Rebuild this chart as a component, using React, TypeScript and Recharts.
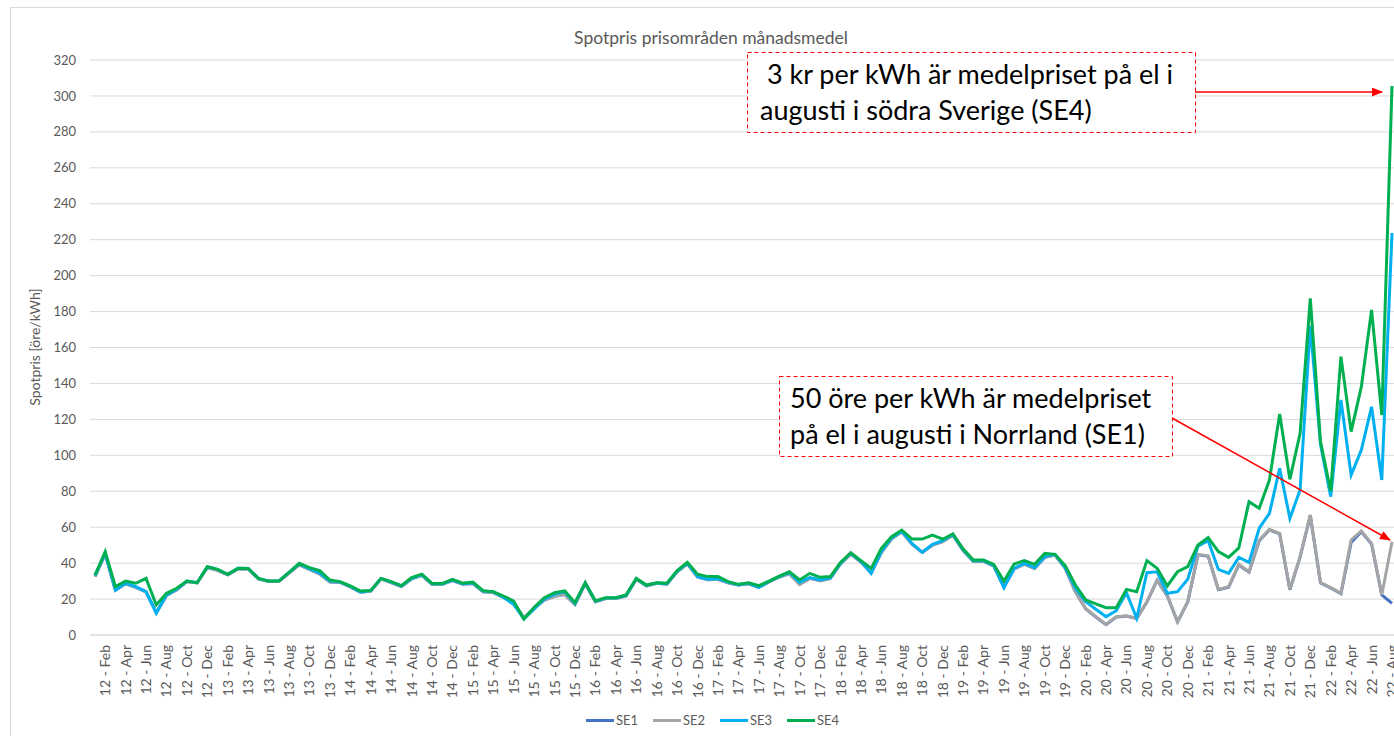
import React from 'react';
import { LineChart, Line, XAxis, YAxis, CartesianGrid, Legend } from 'recharts';

const yearLabels = ['12', '13', '14', '15', '16', '17', '18', '19', '20', '21', '22'];
const monthNames = ['Jan', 'Feb', 'Mar', 'Apr', 'May', 'Jun', 'Jul', 'Aug', 'Sep', 'Oct', 'Nov', 'Dec'];
const tickMonths = ['Feb', 'Apr', 'Jun', 'Aug', 'Oct', 'Dec'];
const yTicks = [0, 20, 40, 60, 80, 100, 120, 140, 160, 180, 200, 220, 240, 260, 280, 300, 320];

const categories: string[] = yearLabels
  .flatMap((y) => monthNames.map((m) => `${y} - ${m}`))
  .slice(0, 128);

const se1 = [
  32.5, 45, 25, 28.5, 26.5, 24, 12.5, 22, 25.2, 29.8, 29, 37.5,
  36, 33.5, 36.8, 36.8, 31.2, 29.8, 29.8, 34.5, 39, 36.5, 34, 29.5,
  29.3, 26.8, 23.8, 24.5, 31.2, 29.2, 27, 31.2, 33.2, 28.3, 28.2, 30.3,
  28.3, 28.6, 24, 23.6, 21, 17.5, 9.5, 14.8, 19.5, 21.5, 22.5, 17,
  28.5, 18.5, 20.3, 20.3, 21.8, 31, 27.4, 28.8, 28.3, 35.2, 39.6, 32.3,
  30.8, 31, 29, 27.8, 28.5, 26.5, 29.5, 32.3, 34, 28.2, 31.5, 30.2,
  31.5, 39.6, 45, 40.6, 34.5, 46, 53.5, 57.5, 50.5, 46, 50, 52,
  55.5, 47, 41, 41, 38.5, 27, 36.8, 39.5, 37, 43.2, 44.5, 37.2,
  24, 14.6, 10, 5.8, 10, 10.5, 9.2, 18.3, 30.4, 21.8, 7.3, 18.4,
  44.6, 43.8, 25.2, 26.6, 39, 35, 52.5, 58.5, 56.3, 25.2, 43.3, 66.5,
  28.9, 26.2, 23, 51.5, 57.5, 50.6, 22.3, 17.6,
];

const se2 = [
  32.5, 45, 25, 28.5, 26.5, 24, 12.5, 22, 25.2, 29.8, 29, 37.5,
  36, 33.5, 36.8, 36.8, 31.2, 29.8, 29.8, 34.5, 39, 36.5, 34, 29.5,
  29.3, 26.8, 23.8, 24.5, 31.2, 29.2, 27, 31.2, 33.2, 28.3, 28.2, 30.3,
  28.3, 28.6, 24, 23.6, 21, 17.5, 9.5, 14.8, 19.5, 21.5, 22.5, 17,
  28.5, 18.5, 20.3, 20.3, 21.8, 31, 27.4, 28.8, 28.3, 35.2, 39.6, 32.3,
  30.8, 31, 29, 27.8, 28.5, 26.5, 29.5, 32.3, 34, 28.2, 31.5, 30.2,
  31.5, 39.6, 45, 40.6, 34.5, 46, 53.5, 57.5, 50.5, 46, 50, 52,
  55.5, 47, 41, 41, 38.5, 27, 36.8, 39.5, 37, 43.2, 44.5, 37.2,
  24.1, 14.8, 10.2, 5.9, 10.2, 10.6, 9.3, 18.5, 30.6, 22, 7.4, 18.6,
  44.9, 44.1, 25.4, 26.9, 39.3, 35.2, 52.9, 58.8, 56.6, 25.4, 43.6, 66.8,
  29.1, 26.4, 23.2, 52.9, 57.9, 51, 22.3, 51.9,
];

const se3 = [
  33, 45.5, 25, 28.8, 26.9, 24.1, 12.1, 22.3, 25.5, 30, 29.1, 38,
  36.5, 33.8, 37.1, 37, 31.5, 30, 30, 34.9, 39.5, 37, 34.5, 30,
  29.5, 27, 24, 24.7, 31.5, 29.5, 27.3, 31.5, 33.5, 28.5, 28.4, 30.5,
  28.6, 29, 24.5, 24, 21, 17, 8.9, 14.5, 20, 22.8, 24, 17.5,
  29, 18.8, 20.6, 20.6, 22, 31.3, 27.6, 29, 28.6, 35.5, 40, 32.5,
  31, 31.3, 29.3, 28, 28.8, 26.5, 29.8, 32.5, 34.8, 29.3, 32, 30.6,
  31.8, 40, 45.5, 41, 34.3, 46.4, 54, 57.8, 51, 46, 50.5, 52.5,
  56, 47.5, 41.3, 41.3, 38.8, 26.3, 37.1, 39.9, 37.5, 43.6, 44.9, 37.5,
  26, 18.6, 14.3, 10.2, 13.5, 23.5, 9.3, 34.7, 35.2, 23.2, 24.1, 31,
  49.5, 52.5, 36.5, 34.3, 43.2, 40.4, 59.4, 67.7, 92.8, 64.9, 80.7, 172,
  106, 77, 130.8, 89, 103, 127, 86.3, 223.7,
];

const se4 = [
  33.4, 46.4, 26.9, 30, 28.8, 31.5, 16.7, 23.2, 26, 30, 29.1, 38,
  36.5, 33.8, 37.1, 37, 31.5, 30, 30, 34.9, 39.9, 37.5, 35.8, 30.6,
  29.7, 27.3, 24.5, 24.7, 31.5, 29.7, 27.5, 31.9, 33.9, 28.8, 28.6, 31,
  28.8, 29.5, 24.7, 24.1, 21.7, 18.9, 8.9, 15.4, 20.8, 23.6, 24.5, 18,
  29.1, 18.9, 20.8, 20.8, 22.3, 31.5, 27.8, 29.1, 28.8, 35.8, 40.4, 33.8,
  32.5, 32.5, 29.7, 28.2, 29.1, 27.5, 30, 32.8, 35.2, 30.6, 34.3, 32.1,
  32.5, 40.4, 45.8, 41.4, 37.1, 48.2, 54.7, 58.4, 53.4, 53.4, 55.6, 53.3,
  56.2, 48, 41.7, 41.7, 39.3, 30, 39.5, 41.4, 39.3, 45.4, 44.9, 38.6,
  27.8, 19.5, 17.3, 15.2, 15.2, 25.4, 24.1, 41.4, 37.1, 27.3, 35.2, 38,
  50.1, 54.2, 46.4, 43.2, 48.5, 74.2, 70.5, 86.3, 123, 86.6, 112.2, 187.3,
  107.6, 80, 154.9, 113.2, 138.2, 180.9, 122.4, 305.5,
];

const seriesNames = ['SE1', 'SE2', 'SE3', 'SE4'];
const seriesColors = ['#4472C4', '#A5A5A5', '#00B0F0', '#00B050'];

const data = categories.map((c, i) => ({
  month: c,
  SE1: se1[i],
  SE2: se2[i],
  SE3: se3[i],
  SE4: se4[i],
}));

const FONT = "Lato, 'Open Sans', 'Liberation Sans', sans-serif";
const GRAY = '#595959';

const XTick = (props: any) => {
  const { x, y, payload } = props;
  const label = String(payload.value);
  const m = label.split(' - ')[1];
  if (!tickMonths.includes(m)) return null;
  return (
    <text
      transform={`translate(${x},${y}) rotate(-90)`}
      x={0}
      y={0}
      dy={5}
      textAnchor="end"
      fill={GRAY}
      fontSize={14}
      fontFamily={FONT}
    >
      {label}
    </text>
  );
};

const renderLegend = () => (
  <div
    style={{
      display: 'flex',
      alignItems: 'center',
      height: 20,
      paddingLeft: 586,
      fontFamily: FONT,
      fontSize: 13,
      color: GRAY,
    }}
  >
    {seriesNames.map((n, k) => (
      <div key={n} style={{ display: 'flex', alignItems: 'center', width: 67 }}>
        <span style={{ display: 'inline-block', width: 28, height: 3, background: seriesColors[k] }} />
        <span style={{ marginLeft: 2 }}>{n}</span>
      </div>
    ))}
  </div>
);

export default function App() {
  return (
    <div
      style={{
        position: 'absolute',
        left: 0,
        top: 0,
        width: 1394,
        height: 736,
        overflow: 'hidden',
        background: '#ffffff',
        fontFamily: FONT,
      }}
    >
      <div
        style={{
          position: 'absolute',
          left: 10,
          top: 7,
          width: 1420,
          height: 760,
          border: '1px solid #d9d9d9',
        }}
      />
      <div style={{ position: 'absolute', left: 0, top: 0 }}>
        <LineChart
          width={1420}
          height={736}
          data={data}
          margin={{ top: 60, right: 23, left: 0, bottom: 6 }}
        >
          <CartesianGrid vertical={false} stroke="#d9d9d9" />
          <XAxis
            dataKey="month"
            scale="point"
            padding={{ left: 5, right: 5 }}
            interval={0}
            tickLine={false}
            axisLine={{ stroke: '#d9d9d9' }}
            tick={<XTick />}
            tickMargin={4}
            height={75}
          />
          <YAxis
            width={90}
            domain={[0, 320]}
            ticks={yTicks}
            interval={0}
            tickLine={false}
            axisLine={false}
            tickMargin={8}
            tick={{ fill: GRAY, fontSize: 13, fontFamily: FONT }}
          />
          <Legend verticalAlign="bottom" align="left" height={20} content={renderLegend} />
          {seriesNames.map((n, k) => (
            <Line
              key={n}
              type="linear"
              dataKey={n}
              stroke={seriesColors[k]}
              strokeWidth={3}
              dot={false}
              activeDot={false}
              isAnimationActive={false}
            />
          ))}
        </LineChart>
      </div>
      <svg
        width={1394}
        height={736}
        style={{ position: 'absolute', left: 0, top: 0, pointerEvents: 'none' }}
      >
        <defs>
          <marker
            id="arrowRed"
            markerUnits="userSpaceOnUse"
            markerWidth={11}
            markerHeight={9}
            refX={10}
            refY={4.5}
            orient="auto"
          >
            <path d="M0,0 L11,4.5 L0,9 z" fill="#FF0000" />
          </marker>
        </defs>
        <text x={711} y={44} textAnchor="middle" fontSize={17.5} fill={GRAY} fontFamily={FONT}>
          Spotpris prisområden månadsmedel
        </text>
        <text
          transform="translate(40,347) rotate(-90)"
          textAnchor="middle"
          fontSize={14}
          fill={GRAY}
          fontFamily={FONT}
        >
          Spotpris [öre/kWh]
        </text>

        <rect x={747.5} y={52.5} width={448} height={80} fill="#ffffff" stroke="#FF0000" strokeWidth={1} strokeDasharray="4 3" />
        <text x={760} y={84} fontSize={27} fill="#000000" fontFamily={FONT}>
          {'\u00a03 kr per kWh är medelpriset på el i'}
        </text>
        <text x={760} y={120} fontSize={27} fill="#000000" fontFamily={FONT}>
          augusti i södra Sverige (SE4)
        </text>
        <line x1={1195} y1={92} x2={1382} y2={92} stroke="#FF0000" strokeWidth={1.5} markerEnd="url(#arrowRed)" />

        <rect x={779.5} y={376.5} width={393} height={80} fill="#ffffff" stroke="#FF0000" strokeWidth={1} strokeDasharray="4 3" />
        <text x={790} y={408} fontSize={27} fill="#000000" fontFamily={FONT}>
          50 öre per kWh är medelpriset
        </text>
        <text x={790} y={444} fontSize={27} fill="#000000" fontFamily={FONT}>
          på el i augusti i Norrland (SE1)
        </text>
        <line x1={1172} y1={418} x2={1390} y2={540} stroke="#FF0000" strokeWidth={1.5} markerEnd="url(#arrowRed)" />
      </svg>
    </div>
  );
}
